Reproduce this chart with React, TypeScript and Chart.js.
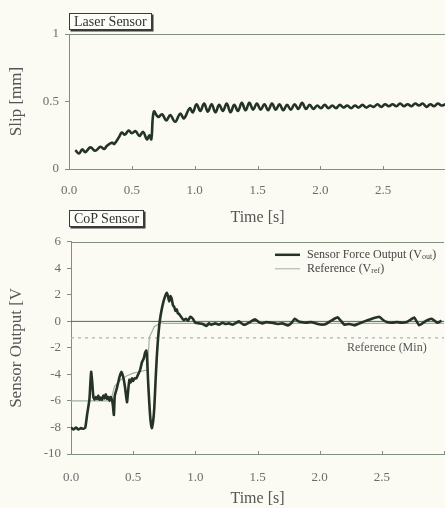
import React, { useEffect, useRef } from 'react';
import { Chart, registerables } from 'chart.js';

Chart.register(...registerables);

// ---------- DATA ----------
const slipTime = [
  0.05, 0.08, 0.105, 0.13, 0.17, 0.21, 0.25, 0.28, 0.30, 0.34, 0.36, 0.40, 0.42, 0.445, 0.475, 0.50,
  0.53, 0.56, 0.59, 0.62, 0.64, 0.655, 0.675, 0.71, 0.74, 0.775, 0.805, 0.845, 0.885, 0.915, 0.96,
  0.985, 1.015, 1.045, 1.075, 1.105, 1.135, 1.165, 1.195, 1.225, 1.255, 1.285, 1.315, 1.345, 1.375,
  1.405, 1.435, 1.465, 1.495, 1.525, 1.555, 1.585, 1.615, 1.645, 1.675, 1.705, 1.735, 1.765, 1.795,
  1.825, 1.855, 1.885, 1.915, 1.945, 1.975, 2.005, 2.035, 2.065, 2.095, 2.125, 2.155, 2.185, 2.215,
  2.245, 2.275, 2.305, 2.335, 2.365, 2.395, 2.425, 2.455, 2.485, 2.515, 2.545, 2.575, 2.605, 2.635,
  2.665, 2.695, 2.725, 2.755, 2.785, 2.815, 2.845, 2.875, 2.905, 2.935, 2.965, 2.995,
];
const slipValue = [
  0.14, 0.115, 0.145, 0.125, 0.16, 0.135, 0.165, 0.148, 0.17, 0.195, 0.185, 0.24, 0.27, 0.255, 0.285, 0.265,
  0.28, 0.245, 0.275, 0.22, 0.25, 0.22, 0.425, 0.385, 0.405, 0.36, 0.40, 0.35, 0.41, 0.375, 0.45,
  0.42, 0.48, 0.43, 0.485, 0.425, 0.48, 0.42, 0.475, 0.43, 0.485, 0.42, 0.475, 0.43, 0.49,
  0.435, 0.49, 0.44, 0.485, 0.44, 0.48, 0.435, 0.485, 0.44, 0.48, 0.435, 0.475, 0.44, 0.48,
  0.445, 0.49, 0.445, 0.475, 0.445, 0.47, 0.45, 0.475, 0.45, 0.47, 0.45, 0.475, 0.455, 0.47,
  0.45, 0.47, 0.455, 0.475, 0.455, 0.47, 0.46, 0.48, 0.46, 0.48, 0.465, 0.48, 0.465, 0.485,
  0.465, 0.48, 0.465, 0.485, 0.47, 0.485, 0.46, 0.48, 0.465, 0.485, 0.47, 0.48,
];

const copTime = [
  0.00, 0.02, 0.04, 0.06, 0.08, 0.10, 0.115, 0.13, 0.148, 0.155, 0.162, 0.17, 0.18, 0.19, 0.20, 0.21,
  0.22, 0.23, 0.24, 0.25, 0.26, 0.27, 0.28, 0.29, 0.30, 0.31, 0.32, 0.335, 0.345, 0.352, 0.37, 0.39,
  0.405, 0.42, 0.435, 0.45, 0.46, 0.47, 0.48, 0.49, 0.50, 0.51, 0.525, 0.54, 0.555, 0.57, 0.585,
  0.595, 0.605, 0.612, 0.62, 0.63, 0.64, 0.65, 0.66, 0.67, 0.68, 0.69, 0.70, 0.71, 0.72, 0.735,
  0.75, 0.77, 0.78, 0.79, 0.80, 0.81, 0.82, 0.83, 0.84, 0.85, 0.86, 0.87, 0.885, 0.905, 0.925, 0.94,
  0.96, 0.98, 1.00, 1.03, 1.06, 1.09, 1.11, 1.13, 1.16, 1.19, 1.22, 1.24, 1.27, 1.30, 1.33, 1.35,
  1.38, 1.40, 1.44, 1.48, 1.51, 1.54, 1.57, 1.61, 1.64, 1.66, 1.70, 1.745, 1.775, 1.80, 1.83, 1.85,
  1.89, 1.93, 1.985, 2.02, 2.05, 2.10, 2.145, 2.17, 2.20, 2.24, 2.28, 2.32, 2.36, 2.42, 2.48, 2.51,
  2.54, 2.58, 2.62, 2.66, 2.70, 2.735, 2.76, 2.78, 2.80, 2.82, 2.84, 2.87, 2.90, 2.93, 2.95, 2.98,
];
const copOutput = [
  -8.0, -8.15, -8.0, -8.15, -8.05, -8.1, -8.0, -7.0, -5.9, -4.8, -3.8, -4.5, -5.7, -5.9, -5.7, -5.85,
  -5.6, -5.9, -5.75, -5.9, -5.6, -5.8, -5.5, -5.85, -5.7, -6.0, -5.7, -6.2, -7.05, -5.6, -5.0, -4.2,
  -3.8, -4.2, -5.0, -6.1, -5.2, -4.4, -4.6, -4.3, -4.5, -4.3, -4.3, -4.0, -3.7, -3.1, -2.8,
  -2.4, -2.2, -2.8, -4.5, -6.2, -7.5, -8.05, -7.6, -6.5, -4.5, -2.7, -1.3, -0.3, 0.4, 1.15,
  1.7, 2.15, 1.9, 1.5, 1.9, 1.7, 1.2, 1.1, 0.8, 0.9, 0.6, 0.55, 0.35, 0.1, 0.2, 0.05,
  0.35, 0.2, -0.1, -0.15, -0.2, -0.35, -0.15, -0.25, -0.15, -0.25, -0.1, -0.2, -0.15, -0.25, -0.1, 0.0,
  -0.2, -0.25, -0.05, 0.15, -0.05, -0.15, -0.05, -0.1, -0.15, -0.2, -0.15, -0.3, -0.1, 0.2, 0.0, -0.05,
  -0.1, -0.05, -0.2, -0.25, -0.2, 0.1, 0.3, 0.05, -0.25, -0.2, -0.3, -0.15, 0.0, 0.2, 0.35, 0.1,
  -0.05, -0.1, -0.05, -0.1, -0.05, 0.15, 0.3, 0.0, -0.3, -0.2, -0.05, 0.1, 0.2, 0.0, -0.1, 0.05,
];

const refTime = [0.0, 0.32, 0.35, 0.40, 0.45, 0.50, 0.55, 0.60, 0.615, 0.63, 0.67, 0.72, 0.75, 3.0];
const refValue = [-6.0, -6.0, -4.9, -4.4, -4.1, -3.9, -3.8, -3.7, -3.7, -1.2, -0.4, -0.1, -0.15, -0.15];

const zeroTime = [0, 3];
const zeroValue = [0, 0];
const refMinTime = [0, 3];
const refMinValue = [-1.25, -1.25];

const seriesLabels = ['Sensor Force Output (V', 'Reference (V'];
const seriesSubs = ['out', 'ref'];
const refMinLabel = 'Reference (Min)';
const xMin = 0;
const xMax = 3;
const slipMin = 0;
const slipMax = 1;
const copMin = -10;
const copMax = 6;

// ---------- STYLE ----------
const SERIF = '"Liberation Serif", "DejaVu Serif", serif';
const BG = '#fbfbf4';
const DARK = '#243227';
const AXIS = '#7f8f82';
const TICK = '#6c6c6c';
const TITLE = '#555555';
const REF = '#a3b0a4';

const zip = (xs: number[], ys: number[]) => xs.map((x, i) => ({ x, y: ys[i] }));

const framePlugin = {
  id: 'frame',
  afterDraw(chart: any) {
    const { ctx, chartArea } = chart;
    const xs = chart.scales.x;
    ctx.save();
    ctx.strokeStyle = AXIS;
    ctx.lineWidth = 1;
    ctx.beginPath();
    ctx.moveTo(chartArea.left, Math.round(chartArea.top) + 0.5);
    ctx.lineTo(chartArea.right, Math.round(chartArea.top) + 0.5);
    xs.ticks.forEach((t: any) => {
      const px = Math.round(xs.getPixelForValue(t.value)) + 0.5;
      ctx.moveTo(px, chartArea.bottom);
      ctx.lineTo(px, chartArea.bottom - 3);
    });
    ctx.stroke();
    ctx.restore();
  },
};

const legendPlugin = {
  id: 'customLegend',
  afterDraw(chart: any) {
    if (!chart.options.plugins.customLegend?.show) return;
    const { ctx, chartArea } = chart;
    const ys = chart.scales.y;
    ctx.save();
    [0, 1].forEach((i) => {
      const ds = chart.data.datasets[i];
      const y = chartArea.top + 13 + i * 14;
      const x0 = chartArea.right - 169;
      ctx.strokeStyle = ds.borderColor;
      ctx.lineWidth = i === 0 ? 2.5 : 1;
      ctx.beginPath();
      ctx.moveTo(x0, y);
      ctx.lineTo(x0 + 25, y);
      ctx.stroke();
      ctx.fillStyle = '#444';
      ctx.textBaseline = 'middle';
      ctx.textAlign = 'left';
      ctx.font = `12px ${SERIF}`;
      let tx = x0 + 32;
      ctx.fillText(seriesLabels[i], tx, y);
      tx += ctx.measureText(seriesLabels[i]).width;
      ctx.font = `8px ${SERIF}`;
      ctx.fillText(seriesSubs[i], tx, y + 2);
      tx += ctx.measureText(seriesSubs[i]).width;
      ctx.font = `12px ${SERIF}`;
      ctx.fillText(')', tx, y);
    });
    ctx.font = `12px ${SERIF}`;
    ctx.fillStyle = '#555';
    ctx.textAlign = 'left';
    ctx.textBaseline = 'middle';
    ctx.fillText(refMinLabel, chartArea.right - 97, ys.getPixelForValue(refMinValue[0]) + 10);
    ctx.restore();
  },
};

function makeOptions(opts: {
  yMin: number; yMax: number; yStep: number; yTitle: string; yWidth: number; xHeight: number;
  pad: any; xTitlePadBottom: number; xTickPad: number; legend: boolean; yFmt: (v: number) => string;
}) {
  return {
    responsive: false,
    animation: false as const,
    devicePixelRatio: 1,
    layout: { padding: opts.pad },
    elements: { point: { radius: 0 }, line: { tension: 0 } },
    plugins: {
      legend: { display: false },
      tooltip: { enabled: false },
      customLegend: { show: opts.legend },
    },
    scales: {
      x: {
        type: 'linear' as const,
        min: xMin,
        max: xMax,
        grid: { display: false, drawTicks: false },
        border: { display: true, color: AXIS, width: 1 },
        ticks: {
          stepSize: 0.5,
          padding: opts.xTickPad,
          color: TICK,
          font: { family: SERIF, size: 13 },
          maxRotation: 0,
          callback: (v: any) => (v >= 2.99 ? '' : Number(v).toFixed(1)),
        },
        title: {
          display: true,
          text: 'Time [s]',
          color: TITLE,
          font: { family: SERIF, size: 16 },
          padding: { top: 0, bottom: opts.xTitlePadBottom },
        },
        afterFit: (s: any) => { s.height = opts.xHeight; },
      },
      y: {
        type: 'linear' as const,
        min: opts.yMin,
        max: opts.yMax,
        grid: { display: true, drawOnChartArea: false, drawTicks: true, tickLength: 4, color: AXIS },
        border: { display: true, color: AXIS, width: 1 },
        ticks: {
          stepSize: opts.yStep,
          padding: 6,
          color: TICK,
          font: { family: SERIF, size: 13 },
          callback: (v: any) => opts.yFmt(Number(v)),
        },
        title: {
          display: true,
          text: opts.yTitle,
          color: TITLE,
          font: { family: SERIF, size: 17 },
          padding: { top: 6, bottom: 0 },
        },
        afterFit: (s: any) => { s.width = opts.yWidth; },
      },
    },
  };
}

const boxStyle: React.CSSProperties = {
  position: 'absolute',
  left: 69,
  fontFamily: SERIF,
  fontSize: 14,
  lineHeight: '15px',
  color: '#333',
  border: '1px solid #3a3a3a',
  boxShadow: '1.5px 1.5px 0 #3a3a3a',
  background: '#fdfdf8',
  padding: '0 4px',
  zIndex: 2,
  whiteSpace: 'nowrap',
};

export default function App() {
  const topRef = useRef<HTMLCanvasElement>(null);
  const botRef = useRef<HTMLCanvasElement>(null);

  useEffect(() => {
    document.body.style.margin = '0';
    document.body.style.background = BG;
    const c1 = new Chart(topRef.current!, {
      type: 'line',
      data: {
        datasets: [
          {
            label: 'Slip',
            data: zip(slipTime, slipValue),
            borderColor: DARK,
            borderWidth: 2.6,
            tension: 0.4,
            fill: false,
          },
        ],
      },
      options: makeOptions({
        yMin: slipMin, yMax: slipMax, yStep: 0.5, yTitle: 'Slip [mm]', yWidth: 69, xHeight: 61,
        pad: { left: 0, top: 34, right: 11, bottom: 0 }, xTitlePadBottom: 3, xTickPad: 14, legend: false,
        yFmt: (v) => (v === 0 ? '0' : v === 1 ? '1' : String(v)),
      }) as any,
      plugins: [framePlugin],
    });
    const c2 = new Chart(botRef.current!, {
      type: 'line',
      data: {
        datasets: [
          {
            label: 'Sensor Force Output (Vout)',
            data: zip(copTime, copOutput),
            borderColor: DARK,
            borderWidth: 2.6,
            tension: 0.15,
            fill: false,
          },
          {
            label: 'Reference (Vref)',
            data: zip(refTime, refValue),
            borderColor: REF,
            borderWidth: 1.2,
            fill: false,
          },
          {
            label: 'zero',
            data: zip(zeroTime, zeroValue),
            borderColor: '#4f6b57',
            borderWidth: 1,
            fill: false,
          },
          {
            label: 'Reference (Min)',
            data: zip(refMinTime, refMinValue),
            borderColor: '#aab3aa',
            borderWidth: 1.2,
            borderDash: [3, 4],
            fill: false,
          },
        ],
      },
      options: makeOptions({
        yMin: copMin, yMax: copMax, yStep: 2, yTitle: 'Sensor Output [V', yWidth: 71, xHeight: 54,
        pad: { left: 0, top: 4, right: 13, bottom: 0 }, xTitlePadBottom: 0, xTickPad: 16, legend: true,
        yFmt: (v) => String(v),
      }) as any,
      plugins: [framePlugin, legendPlugin],
    });
    return () => {
      c1.destroy();
      c2.destroy();
    };
  }, []);

  return (
    <div style={{ position: 'relative', width: 445, height: 508, overflow: 'hidden', background: BG }}>
      <canvas ref={topRef} width={460} height={230} style={{ position: 'absolute', left: 0, top: 0, width: 460, height: 230 }} />
      <canvas ref={botRef} width={460} height={280} style={{ position: 'absolute', left: 0, top: 228, width: 460, height: 280 }} />
      <div style={{ ...boxStyle, top: 13 }}>Laser Sensor</div>
      <div style={{ ...boxStyle, top: 210 }}>CoP Sensor</div>
    </div>
  );
}
